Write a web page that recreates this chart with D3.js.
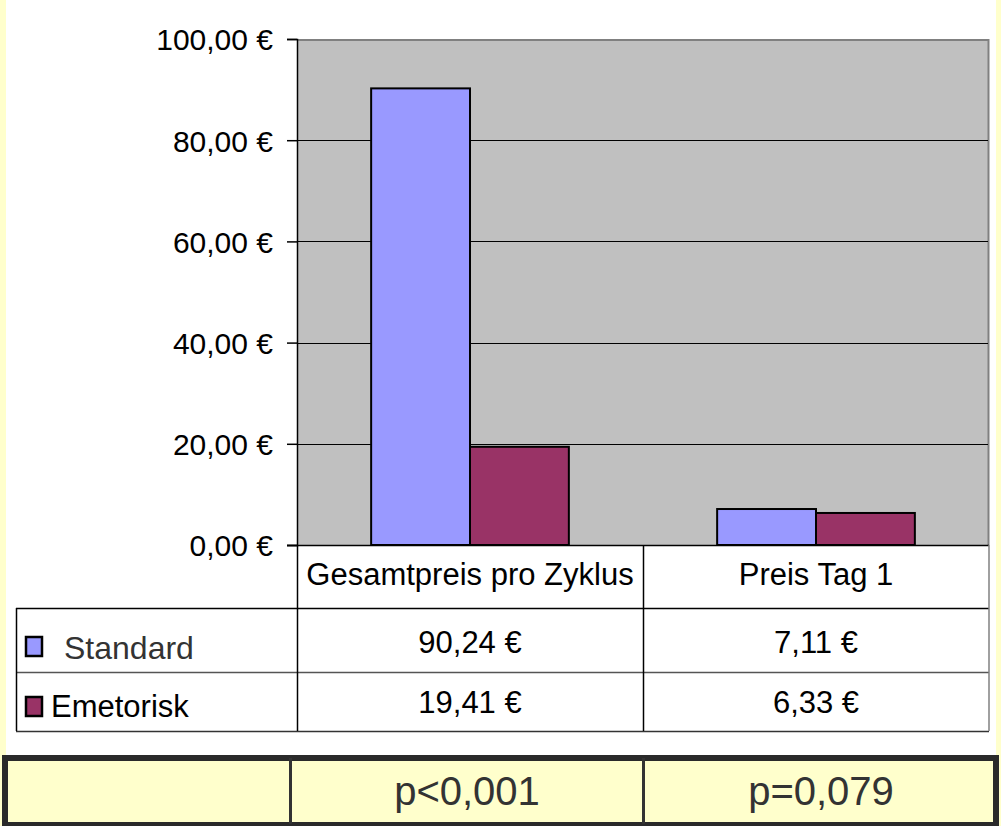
<!DOCTYPE html>
<html>
<head>
<meta charset="utf-8">
<script src="https://cdn.jsdelivr.net/npm/d3@7"></script>
<style>
  body { margin: 0; background: #ffffcc; }
  svg { display: block; font-family: "Liberation Sans", Arial, sans-serif; }
</style>
</head>
<body>
<svg id="chart" width="1001" height="826"></svg>
<script>
'use strict';

let categories = ["Gesamtpreis pro Zyklus", "Preis Tag 1"],
    seriesNames = ["Standard", "Emetorisk"],
    standardVals = [90.24, 7.11],
    emetoriskVals = [19.41, 6.33],
    pValues = ["p<0,001", "p=0,079"],
    yTicks = [0, 20, 40, 60, 80, 100];

let colors = ["#9999ff", "#993366"];

function euro(v) {
    return v.toFixed(2).replace(".", ",") + " €";
}

let svg = d3.select("#chart");

// white panel
svg.append("rect").attr("x", 6).attr("y", 0).attr("width", 990).attr("height", 755).attr("fill", "#fff");

let pLeft = 297, pRight = 989, pTop = 39, pBottom = 545;

let x = d3.scaleBand().domain(categories).range([pLeft, pRight]);
let xs = d3.scaleBand().domain(seriesNames).range([0, x.bandwidth()]).paddingInner(0).paddingOuter(0.75);
let y = d3.scaleLinear().domain([0, 100]).range([pBottom, pTop]);

// plot area
svg.append("rect")
    .attr("x", pLeft).attr("y", pTop).attr("width", pRight - pLeft).attr("height", pBottom - pTop)
    .attr("fill", "#c0c0c0");
svg.append("path")
    .attr("d", "M" + pLeft + "," + (pTop + 1) + "H" + (pRight - 0.5) + "V" + pBottom)
    .attr("fill", "none").attr("stroke", "#808080").attr("stroke-width", 2);

// gridlines
svg.append("g").selectAll("line")
    .data(yTicks.filter(function(d) { return d > 0 && d < 100; }))
    .enter().append("line")
    .attr("x1", pLeft).attr("x2", pRight - 1)
    .attr("y1", function(d) { return Math.round(y(d)) + 0.5; })
    .attr("y2", function(d) { return Math.round(y(d)) + 0.5; })
    .attr("stroke", "#000").attr("stroke-width", 1);

// bars
let groups = svg.append("g").selectAll("g")
    .data(categories)
    .enter().append("g")
    .attr("transform", function(d) { return "translate(" + x(d) + ",0)"; });

groups.selectAll("rect")
    .data(function(d, i) {
        return [
            { s: seriesNames[0], v: standardVals[i], c: colors[0] },
            { s: seriesNames[1], v: emetoriskVals[i], c: colors[1] }
        ];
    })
    .enter().append("rect")
    .attr("x", function(d) { return xs(d.s); })
    .attr("y", function(d) { return y(d.v); })
    .attr("width", xs.bandwidth())
    .attr("height", function(d) { return pBottom - y(d.v); })
    .attr("fill", function(d) { return d.c; })
    .attr("stroke", "#000").attr("stroke-width", 2);

// y axis
let yAxis = svg.append("g")
    .attr("transform", "translate(" + pLeft + ",0)")
    .call(d3.axisLeft(y).tickValues(yTicks).tickSize(10).tickPadding(14)
        .tickFormat(function(d) { return euro(d); }));
yAxis.select(".domain").attr("stroke", "#000").attr("stroke-width", 1.5);
yAxis.selectAll(".tick line").attr("stroke", "#000").attr("stroke-width", 1.5);
yAxis.selectAll(".tick text")
    .attr("font-size", 30).attr("fill", "#000")
    .attr("font-family", "Liberation Sans, Arial, sans-serif")
    .attr("dy", "0.36em");

// data table
let tbl = svg.append("g");
let rowY = [pBottom, 608, 672, 731];

function hline(x1, x2, yy, col) {
    tbl.append("line").attr("x1", x1).attr("x2", x2).attr("y1", yy + 0.5).attr("y2", yy + 0.5)
        .attr("stroke", col || "#000").attr("stroke-width", 1.5);
}
function vline(xx, y1, y2, col) {
    tbl.append("line").attr("x1", xx + 0.5).attr("x2", xx + 0.5).attr("y1", y1).attr("y2", y2)
        .attr("stroke", col || "#000").attr("stroke-width", 1.5);
}

hline(287, pRight, pBottom);
hline(16, pRight, rowY[1]);
hline(16, pRight, rowY[2], "#555");
hline(16, pRight, rowY[3], "#333");
vline(16, rowY[1], rowY[3]);
vline(pLeft, pBottom, rowY[3]);
vline(x(categories[1]), pBottom, rowY[3]);
vline(pRight - 0.5, pBottom, rowY[3], "#808080");

tbl.selectAll("text.cat")
    .data(categories)
    .enter().append("text")
    .attr("class", "cat")
    .attr("x", function(d) { return x(d) + x.bandwidth() / 2; })
    .attr("y", 585)
    .attr("text-anchor", "middle")
    .attr("font-size", 31)
    .text(function(d) { return d; });

let valueRows = [standardVals, emetoriskVals];
valueRows.forEach(function(vals, r) {
    tbl.selectAll("text.v" + r)
        .data(vals)
        .enter().append("text")
        .attr("x", function(d, i) { return x(categories[i]) + x.bandwidth() / 2; })
        .attr("y", r === 0 ? 653 : 713)
        .attr("text-anchor", "middle")
        .attr("font-size", 31)
        .text(function(d) { return euro(d); });
});

// legend keys in table
let legY = [637, 697];
seriesNames.forEach(function(name, i) {
    tbl.append("rect")
        .attr("x", 26).attr("y", legY[i]).attr("width", 16).attr("height", 19)
        .attr("fill", colors[i]).attr("stroke", "#000").attr("stroke-width", 2.5);
    tbl.append("text")
        .attr("x", i === 0 ? 64 : 51)
        .attr("y", i === 0 ? 659 : 717)
        .attr("font-size", i === 0 ? 32 : 31)
        .attr("fill", i === 0 ? "#333" : "#000")
        .text(name);
});

// p-value box
let pb = svg.append("g");
pb.append("rect")
    .attr("x", 5).attr("y", 758).attr("width", 991).attr("height", 67)
    .attr("fill", "#ffffcc").attr("stroke", "#2a2a2a").attr("stroke-width", 6);
let pCols = [[291, 643], [645, 997]];
[290.5, 643.5].forEach(function(xx) {
    pb.append("line").attr("x1", xx).attr("x2", xx).attr("y1", 758).attr("y2", 824)
        .attr("stroke", "#333").attr("stroke-width", 3);
});
pb.selectAll("text")
    .data(pValues)
    .enter().append("text")
    .attr("x", function(d, i) { return (pCols[i][0] + pCols[i][1]) / 2; })
    .attr("y", 805)
    .attr("text-anchor", "middle")
    .attr("font-size", 40)
    .attr("fill", "#333")
    .text(function(d) { return d; });
</script>
</body>
</html>
